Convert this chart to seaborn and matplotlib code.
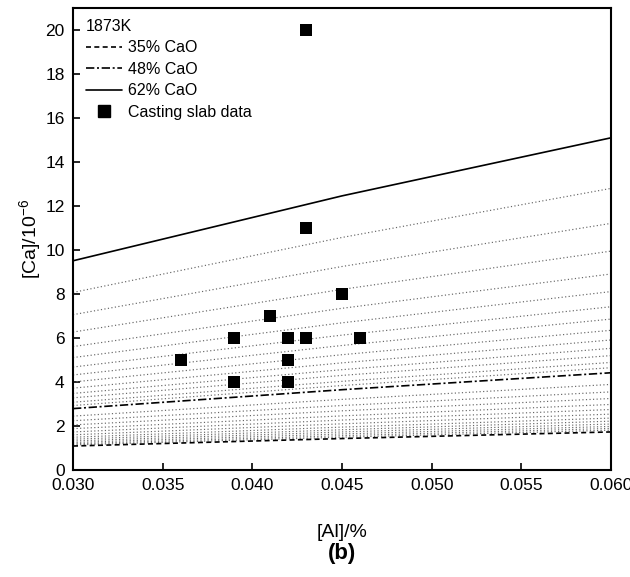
import numpy as np
import pandas as pd
import matplotlib
matplotlib.use("Agg")
import matplotlib.pyplot as plt
import seaborn as sns

# [Al] positions at which each equilibrium line is evaluated
al_grid = [0.030, 0.045, 0.060]

# CaO content of the slag (%), one equilibrium line per level
cao_levels = [35, 36, 37, 38, 39, 40, 41, 42, 43, 44, 45, 46, 47, 48,
              49, 50, 51, 52, 53, 54, 55, 56, 57, 58, 59, 60, 61, 62]

# [Ca]/10^-6 of each line at al_grid[0], al_grid[1], al_grid[2]
ca_at_030 = [1.09, 1.14, 1.19, 1.25, 1.32, 1.40, 1.49, 1.60, 1.73, 1.88,
             2.05, 2.24, 2.45, 2.79, 2.93, 3.08, 3.28, 3.48, 3.72, 4.00,
             4.32, 4.68, 5.11, 5.61, 6.27, 7.06, 8.07, 9.51]
ca_at_045 = [1.43, 1.49, 1.56, 1.64, 1.73, 1.83, 1.95, 2.10, 2.27, 2.46,
             2.69, 2.93, 3.21, 3.65, 3.84, 4.03, 4.30, 4.56, 4.87, 5.24,
             5.66, 6.13, 6.69, 7.35, 8.21, 9.25, 10.57, 12.46]
ca_at_060 = [1.73, 1.81, 1.89, 1.98, 2.09, 2.22, 2.36, 2.54, 2.75, 2.98,
             3.25, 3.55, 3.89, 4.42, 4.65, 4.89, 5.20, 5.53, 5.91, 6.35,
             6.86, 7.42, 8.11, 8.91, 9.95, 11.21, 12.80, 15.10]

# measured casting slab data
slab_al = [0.036, 0.039, 0.039, 0.041, 0.042, 0.042, 0.042, 0.043, 0.043, 0.043, 0.045, 0.046]
slab_ca = [5, 6, 4, 7, 6, 5, 4, 20, 11, 6, 8, 6]

x_ticks = [0.030, 0.035, 0.040, 0.045, 0.050, 0.055, 0.060]
y_ticks = [0, 2, 4, 6, 8, 10, 12, 14, 16, 18, 20]

rows = []
for i, cao in enumerate(cao_levels):
    for al, ca in zip(al_grid, (ca_at_030[i], ca_at_045[i], ca_at_060[i])):
        rows.append({"CaO": cao, "Al": al, "Ca": ca})
lines = pd.DataFrame(rows)
slab = pd.DataFrame({"Al": slab_al, "Ca": slab_ca})

sns.set_style("ticks")
plt.rcParams["font.family"] = ["Liberation Sans", "DejaVu Sans"]
plt.rcParams["text.color"] = "black"
plt.rcParams["axes.labelcolor"] = "black"
plt.rcParams["mathtext.fontset"] = "custom"
plt.rcParams["mathtext.rm"] = "Liberation Sans"
plt.rcParams["mathtext.it"] = "Liberation Sans:italic"

fig = plt.figure(figsize=(6.3, 5.77), dpi=100)
ax = fig.add_axes([73 / 630, 1 - 470 / 577, 538 / 630, 462 / 577])

# intermediate compositions as thin grey dotted lines
highlight = {35: ("35% CaO", (0, (3.0, 2.0))),
             48: ("48% CaO", (0, (5.0, 1.6, 1.2, 1.6))),
             62: ("62% CaO", "-")}
for cao in cao_levels:
    if cao in highlight:
        continue
    sub = lines[lines["CaO"] == cao]
    sns.lineplot(data=sub, x="Al", y="Ca", ax=ax, color="#666666",
                 linewidth=0.85, linestyle=(0, (1.0, 2.0)), legend=False)

handles = []
for cao in (35, 48, 62):
    label, ls = highlight[cao]
    sub = lines[lines["CaO"] == cao]
    sns.lineplot(data=sub, x="Al", y="Ca", ax=ax, color="black",
                 linewidth=1.2, linestyle=ls, legend=False)
    handles.append(plt.Line2D([], [], color="black", linewidth=1.2,
                              linestyle=ls, label=label))

sns.scatterplot(data=slab, x="Al", y="Ca", ax=ax, marker="s", s=70,
                color="black", edgecolor="black", linewidth=0, zorder=5,
                legend=False)
handles.append(plt.Line2D([], [], color="black", marker="s", markersize=8,
                          linestyle="none", label="Casting slab data"))

ax.set_xlim(0.030, 0.060)
ax.set_ylim(0, 21)
ax.set_xticks(x_ticks)
ax.set_xticklabels([f"{v:.3f}" for v in x_ticks])
ax.set_yticks(y_ticks)
ax.tick_params(direction="in", length=5, width=1.2, labelsize=12.5,
               colors="black", pad=6)
for sp in ax.spines.values():
    sp.set_visible(True)
    sp.set_linewidth(1.5)
    sp.set_color("black")

ax.set_xlabel("[Al]/%", fontsize=14, labelpad=22)
ax.set_ylabel("[Ca]/10$^{-6}$", fontsize=14, labelpad=2)

leg = ax.legend(handles=handles, title="1873K", loc="upper left",
                bbox_to_anchor=(13 / 538, 1 - 11 / 462),
                frameon=False, fontsize=11.5, title_fontsize=11.5,
                handlelength=2.25, handletextpad=0.38, labelspacing=0.4,
                borderaxespad=0, borderpad=0, alignment="left")

fig.text(342 / 630, 1 - 553 / 577, "(b)", ha="center", va="center",
         fontsize=16, fontweight="bold")

fig.savefig("out.png", dpi=100)
